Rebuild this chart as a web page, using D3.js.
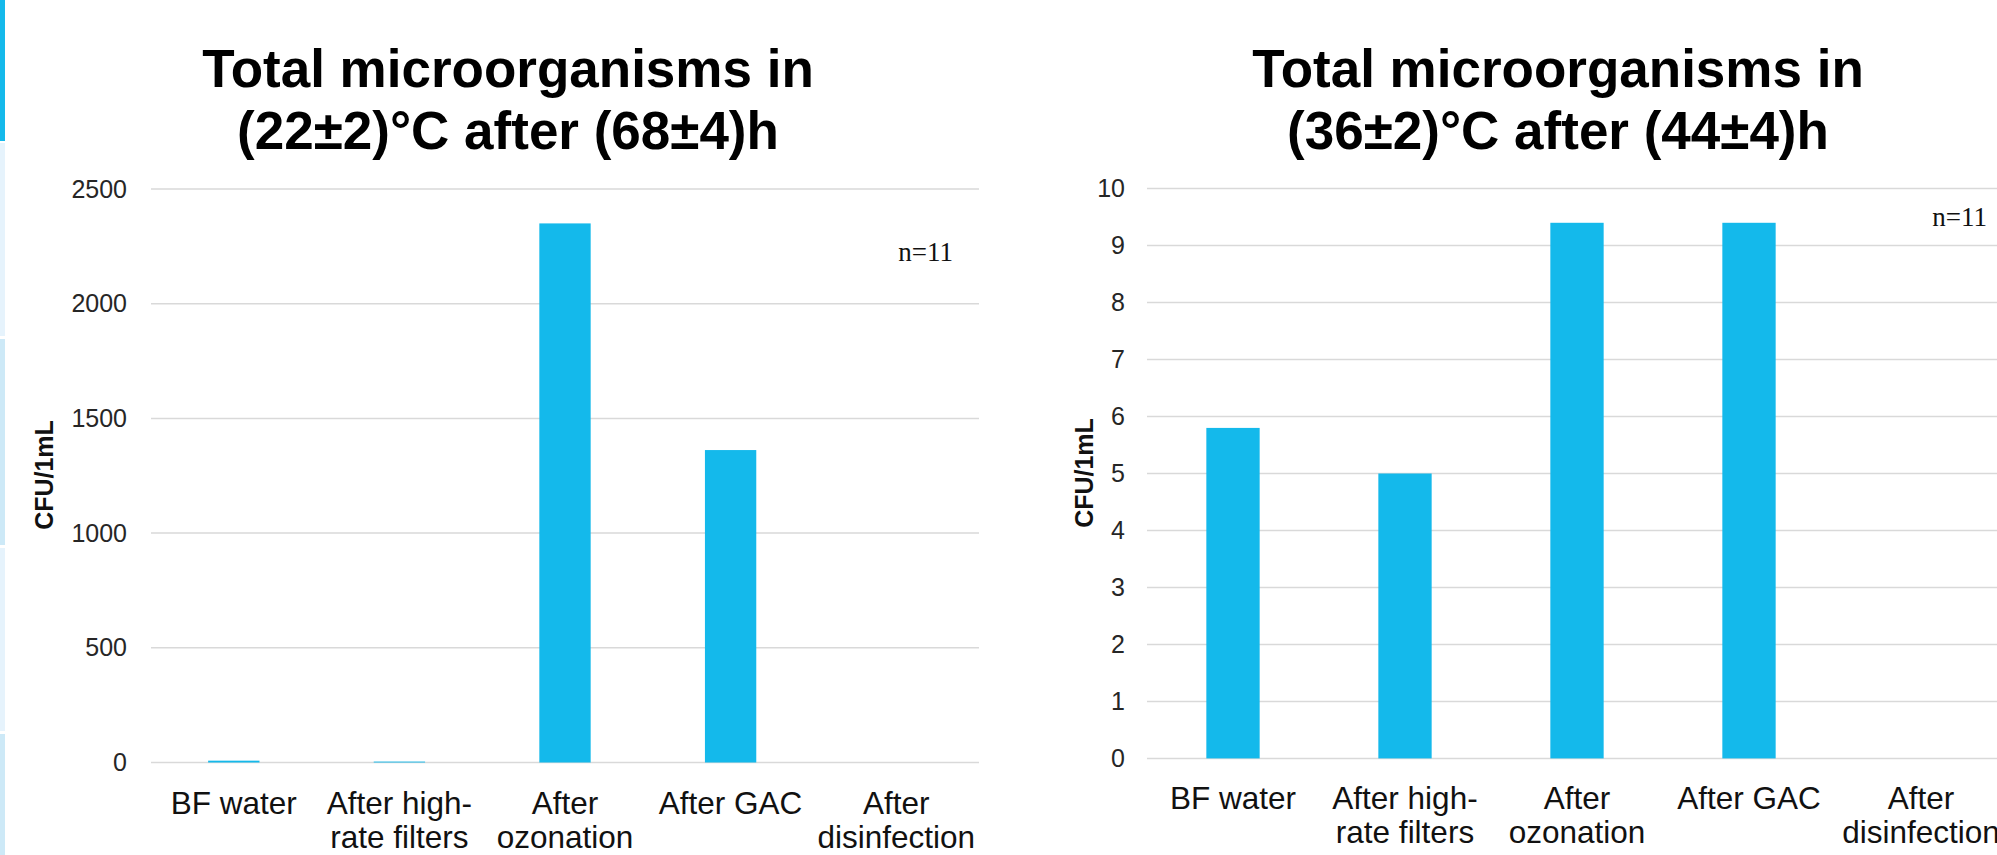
<!DOCTYPE html>
<html>
<head>
<meta charset="utf-8">
<script src="https://cdn.jsdelivr.net/npm/d3@7"></script>
<style>
  html, body { margin: 0; padding: 0; background: #ffffff; }
  svg { display: block; }
</style>
</head>
<body>
<svg id="chart" width="1997" height="855"></svg>
<script>
// ---- data ----
const categories = ["BF water", "After high-rate filters", "After ozonation", "After GAC", "After disinfection"];
const categoryLines = [["BF water"], ["After high-", "rate filters"], ["After", "ozonation"], ["After GAC"], ["After", "disinfection"]];
const values22C = [8, 4, 2350, 1362, 0];
const values36C = [5.8, 5.0, 9.4, 9.4, 0];
const ticks22C = [0, 500, 1000, 1500, 2000, 2500];
const ticks36C = [0, 1, 2, 3, 4, 5, 6, 7, 8, 9, 10];
const title22C = ["Total microorganisms in", "(22±2)°C after (68±4)h"];
const title36C = ["Total microorganisms in", "(36±2)°C after (44±4)h"];
const yLabel = "CFU/1mL";
const nLabel = "n=11";

const svg = d3.select("#chart");
const BAR = "#14B9EB";
const GRID = "#d9d9d9";
const SANS = "'Liberation Sans', Arial, sans-serif";

// left-edge slide strip
const strip = [
  {y0: 0, y1: 141, c: "#14B9EB"},
  {y0: 143, y1: 336, c: "#E6F3FC"},
  {y0: 339, y1: 545, c: "#CDE9F7"},
  {y0: 548, y1: 731, c: "#E6F3FC"},
  {y0: 734, y1: 855, c: "#CDE9F7"}
];
svg.selectAll("rect.strip").data(strip).enter().append("rect")
  .attr("class", "strip")
  .attr("x", 0).attr("width", 5)
  .attr("y", d => d.y0).attr("height", d => d.y1 - d.y0)
  .attr("fill", d => d.c);

function drawChart(cfg) {
  const g = svg.append("g");
  const x = d3.scaleBand().domain(categories).range(cfg.xRange)
    .paddingInner(0.69).paddingOuter(0.345);
  const y = d3.scaleLinear().domain(cfg.yDomain).range(cfg.yRange);

  // gridlines
  g.selectAll("line.grid").data(cfg.ticks).enter().append("line")
    .attr("x1", cfg.xRange[0]).attr("x2", cfg.xRange[1])
    .attr("y1", d => y(d)).attr("y2", d => y(d))
    .attr("stroke", GRID).attr("stroke-width", 1.5);

  // y tick labels via axis
  const axis = d3.axisLeft(y).tickValues(cfg.ticks).tickFormat(d3.format("d"))
    .tickSize(0).tickPadding(cfg.tickPad);
  const ag = g.append("g").attr("transform", `translate(${cfg.xRange[0]},0)`).call(axis);
  ag.select(".domain").remove();
  ag.selectAll("text").attr("font-family", SANS).attr("font-size", 25).attr("fill", "#262626");

  // bars
  g.selectAll("rect.bar").data(cfg.values).enter().append("rect")
    .attr("x", (d, i) => x(categories[i]))
    .attr("width", x.bandwidth())
    .attr("y", d => y(d))
    .attr("height", d => y(0) - y(d))
    .attr("fill", BAR);

  // x labels
  categories.forEach((c, i) => {
    const t = g.append("text")
      .attr("x", x(c) + x.bandwidth() / 2)
      .attr("y", y(0) + 51)
      .attr("text-anchor", "middle")
      .attr("font-family", SANS).attr("font-size", 31.5).attr("fill", "#111");
    categoryLines[i].forEach((ln, j) => {
      t.append("tspan").attr("x", x(c) + x.bandwidth() / 2).attr("dy", j === 0 ? 0 : 34).text(ln);
    });
  });

  // title
  cfg.title.forEach((ln, j) => {
    g.append("text").attr("x", cfg.titleX).attr("y", 87 + j * 62)
      .attr("text-anchor", "middle").attr("font-family", SANS)
      .attr("font-weight", "bold").attr("font-size", 53).attr("fill", "#000")
      .text(ln);
  });

  // y label
  g.append("text")
    .attr("transform", `translate(${cfg.yLabelX},${cfg.yLabelY}) rotate(-90)`)
    .attr("dy", "0.35em").attr("text-anchor", "middle")
    .attr("font-family", SANS).attr("font-weight", "bold").attr("font-size", 25).attr("fill", "#111")
    .text(yLabel);

  // n label
  g.append("text").attr("x", cfg.nX).attr("y", cfg.nY).attr("text-anchor", "end")
    .attr("font-family", "'Liberation Serif', 'Times New Roman', serif").attr("font-size", 27).attr("fill", "#111")
    .text(nLabel);
}

drawChart({
  xRange: [151, 979], yDomain: [0, 2500], yRange: [762.5, 189], ticks: ticks22C,
  values: values22C, title: title22C, titleX: 508, tickPad: 24,
  yLabelX: 44, yLabelY: 475, nX: 953, nY: 261
});
drawChart({
  xRange: [1147, 2007], yDomain: [0, 10], yRange: [758.4, 188.6], ticks: ticks36C,
  values: values36C, title: title36C, titleX: 1558, tickPad: 22,
  yLabelX: 1084, yLabelY: 473, nX: 1987, nY: 226
});
</script>
</body>
</html>
